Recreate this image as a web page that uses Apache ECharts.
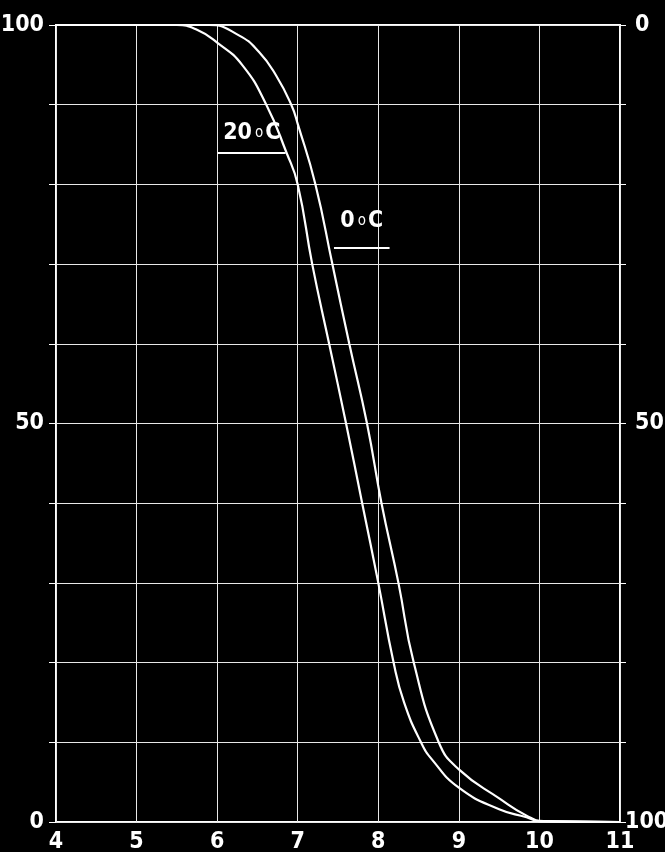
<!DOCTYPE html>
<html>
<head>
<meta charset="utf-8">
<script src="https://cdn.jsdelivr.net/npm/echarts@6/dist/echarts.min.js"></script>
<style>
    html, body { margin: 0; padding: 0; background: #000; }
    #chart { width: 665px; height: 852px; }
</style>
</head>
<body>
<div id="chart"></div>
<script>
// 曲线数据 [x, y]
const curve20C = [
    [4, 100], [5, 100], [5.5, 100], [5.75, 99.4], [6, 97.8], [6.31, 95], [6.61, 90],
    [6.86, 84], [7, 80], [7.18, 70], [7.39, 60], [7.6, 50], [7.8, 40], [8, 30],
    [8.19, 20], [8.32, 15], [8.53, 10], [8.67, 7.8], [9, 4.3], [9.5, 1.6], [9.84, 0.6],
    [10, 0.1], [11, 0]
]
const curve0C = [
    [4, 100], [5, 100], [5.9, 100], [6.27, 98.7], [6.52, 96.6], [6.73, 93.7], [6.92, 90],
    [7, 87.6], [7.22, 80], [7.43, 70], [7.64, 60], [7.86, 50], [8.04, 40], [8.25, 30],
    [8.44, 20], [8.75, 10], [9, 6.6], [9.51, 2.9], [9.84, 0.8],
    [10.05, 0.1], [11, 0]
]
// 轴刻度文字
const xTicks = [4, 5, 6, 7, 8, 9, 10, 11]
const leftLabels = [0, 50, 100]
const rightLabels = [0, 50, 100]
// 标注线 (数据坐标)
const mark20C = [[6.01, 84], [6.85, 84]]
const mark0C = [[7.45, 72], [8.14, 72]]

const font = "'Liberation Sans Narrow', 'DejaVu Sans Condensed', sans-serif"

const myChart = echarts.init(document.getElementById('chart'))

const labelText = {
    color: '#fff',
    fontFamily: font,
    fontWeight: 'bold',
    fontSize: 23
}

function tempLabel(num, dist) {
    return {
        show: true,
        position: 'insideMiddleTop',
        distance: dist,
        formatter: '{a|' + num + '}{b|o}{a|C}',
        rich: {
            a: { color: '#fff', fontFamily: font, fontWeight: 'bold', fontSize: 23 },
            b: { color: '#fff', fontFamily: font, fontSize: 15, padding: [0, 2, 0, 3] }
        }
    }
}

function markOf(pts, num, dist) {
    return {
        silent: true,
        symbol: 'none',
        lineStyle: { color: '#fff', width: 2, type: 'solid' },
        label: tempLabel(num, dist),
        data: [[{ coord: pts[0] }, { coord: pts[1] }]]
    }
}

const splitStyle = { show: true, lineStyle: { color: '#e8e8e8', width: 1 } }

const option = {
    backgroundColor: '#000',
    animation: false,
    grid: {
        left: 56, right: 45, top: 25, bottom: 30,
        outerBoundsMode: 'none',
        containLabel: false,
        show: true, borderColor: '#fff', borderWidth: 2
    },
    xAxis: {
        type: 'value',
        min: 4, max: 11, interval: 1,
        axisLine: { show: false },
        axisTick: { show: false },
        splitLine: splitStyle,
        axisLabel: Object.assign({
            margin: 9,
            formatter: v => xTicks.includes(v) ? String(v) : ''
        }, labelText)
    },
    yAxis: [
        {
            type: 'value',
            min: 0, max: 100, interval: 10,
            axisLine: { show: false },
            axisTick: { show: true, length: 7, lineStyle: { color: '#fff', width: 1 } },
            splitLine: splitStyle,
            axisLabel: Object.assign({
                margin: 12,
                formatter: v => leftLabels.includes(v) ? String(v) : ''
            }, labelText)
        },
        {
            type: 'value',
            position: 'right',
            inverse: true,
            min: 0, max: 100, interval: 10,
            axisLine: { show: false },
            axisTick: { show: true, length: 6, lineStyle: { color: '#fff', width: 1 } },
            splitLine: { show: false },
            axisLabel: Object.assign({
                margin: 5,
                formatter: function (v) {
                    if (!rightLabels.includes(v)) return ''
                    return v === 100 ? '{n|' + v + '}' : '{p|' + v + '}'
                },
                rich: {
                    n: Object.assign({}, labelText),
                    p: Object.assign({ padding: [0, 0, 0, 10] }, labelText)
                }
            }, labelText)
        }
    ],
    series: [
        {
            name: '20°C',
            type: 'line',
            data: curve20C,
            smooth: 0.5,
            showSymbol: false,
            lineStyle: { color: '#fff', width: 2.2 },
            markLine: markOf(mark20C, '20', 8)
        },
        {
            name: '0°C',
            type: 'line',
            data: curve0C,
            smooth: 0.5,
            showSymbol: false,
            lineStyle: { color: '#fff', width: 2.2 },
            markLine: markOf(mark0C, '0', 16)
        }
    ]
}

myChart.setOption(option)
</script>
</body>
</html>
